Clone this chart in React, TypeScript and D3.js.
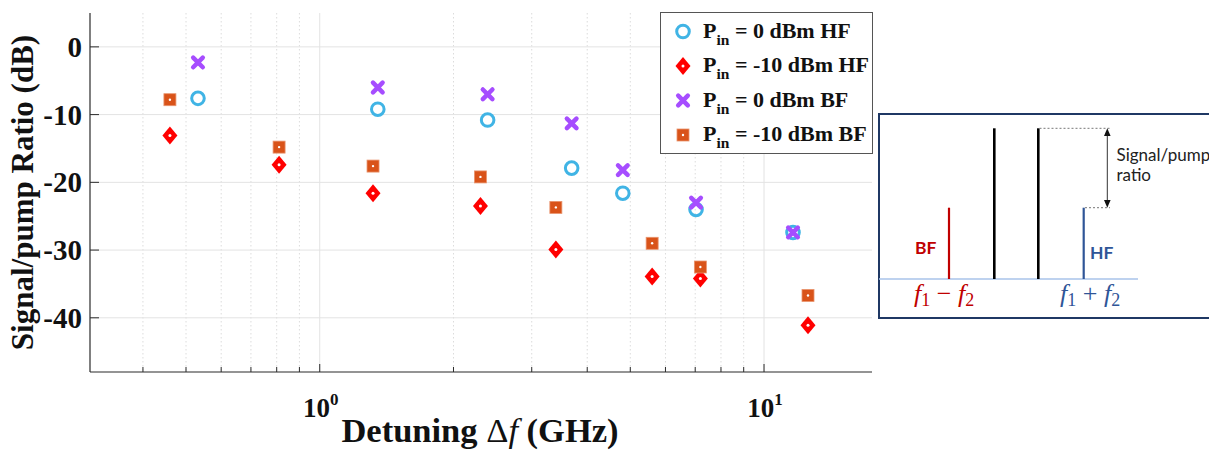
import React from "react";
import * as d3 from "d3";

// ---- Data ----
const detuning0dBm = [0.532, 1.351, 2.387, 3.69, 4.81, 7.03, 11.62];
const hf0dBm = [-7.6, -9.2, -10.8, -17.9, -21.6, -24.0, -27.4];
const bf0dBm = [-2.3, -6.0, -7.0, -11.3, -18.2, -23.0, -27.4];

const detuningM10dBm = [0.46, 0.81, 1.318, 2.3, 3.4, 5.6, 7.19, 12.56];
const hfM10dBm = [-13.1, -17.4, -21.6, -23.5, -29.9, -33.9, -34.2, -41.1];
const bfM10dBm = [-7.8, -14.8, -17.6, -19.2, -23.7, -29.0, -32.5, -36.7];

const yTicks = [0, -10, -20, -30, -40];
const xMajorTicks = [1, 10];
const xMinorTicks = [0.4, 0.5, 0.6, 0.7, 0.8, 0.9, 2, 3, 4, 5, 6, 7, 8, 9];

const legendLabels = [
  { rest: " = 0 dBm HF", kind: "circle" },
  { rest: " = -10 dBm HF", kind: "diamond" },
  { rest: " = 0 dBm BF", kind: "x" },
  { rest: " = -10 dBm BF", kind: "square" },
];

const COLORS = {
  circle: "#40b4e5",
  diamond: "#ff0000",
  x: "#a64dff",
  square: "#d95319",
};

const SERIF = "'Liberation Serif', 'Times New Roman', serif";
const SANS = "Lato, 'Noto Sans', sans-serif";

function Marker({ kind, x, y }: { kind: string; x: number; y: number }) {
  if (kind === "circle") {
    return <circle cx={x} cy={y} r={6.3} fill="none" stroke={COLORS.circle} strokeWidth={3} />;
  }
  if (kind === "diamond") {
    return (
      <g>
        <path d={`M${x},${y - 9} L${x + 7.5},${y} L${x},${y + 9} L${x - 7.5},${y} Z`} fill={COLORS.diamond} />
        <circle cx={x} cy={y} r={1.5} fill="#fff" />
      </g>
    );
  }
  if (kind === "x") {
    const s = 4.8;
    return (
      <g stroke={COLORS.x} strokeWidth={4.5} strokeLinecap="round">
        <line x1={x - s} y1={y - s} x2={x + s} y2={y + s} />
        <line x1={x - s} y1={y + s} x2={x + s} y2={y - s} />
      </g>
    );
  }
  return (
    <g>
      <rect x={x - 6} y={y - 6} width={12} height={12} fill={COLORS.square} stroke="#e9936d" strokeWidth={0.8} />
      <circle cx={x} cy={y} r={1.2} fill="#fff" />
    </g>
  );
}

export default function App() {
  const W = 1209;
  const H = 461;
  const left = 90;
  const right = 872;
  const top = 13;
  const bottom = 372;

  const x = d3.scaleLog().domain([0.304, 17.5]).range([left, right]);
  const y = d3.scaleLinear().domain([-48, 5]).range([bottom, top]);

  // inset geometry
  const ix = 879;
  const iy = 114;
  const base = 279;

  return (
    <svg width={W} height={H} style={{ position: "absolute", left: 0, top: 0 }}>
      <rect width={W} height={H} fill="#fff" />
      {/* grid */}
      {xMinorTicks.map((t) => (
        <line key={"mg" + t} x1={x(t)} x2={x(t)} y1={top} y2={bottom} stroke="#dcdcdc" strokeWidth={1} strokeDasharray="1.5,2.5" />
      ))}
      {xMajorTicks.map((t) => (
        <line key={"Mg" + t} x1={x(t)} x2={x(t)} y1={top} y2={bottom} stroke="#e3e3e3" strokeWidth={1} />
      ))}
      {yTicks.map((t) => (
        <line key={"yg" + t} x1={left} x2={right} y1={y(t)} y2={y(t)} stroke="#e3e3e3" strokeWidth={1} />
      ))}

      {/* axes */}
      <line x1={left} x2={left} y1={top} y2={bottom} stroke="#2b2b2b" strokeWidth={1.2} />
      <line x1={left} x2={right} y1={bottom} y2={bottom} stroke="#2b2b2b" strokeWidth={1.2} />
      {yTicks.map((t) => (
        <line key={"yt" + t} x1={left} x2={left + 9} y1={y(t)} y2={y(t)} stroke="#2b2b2b" strokeWidth={1} />
      ))}
      {xMajorTicks.map((t) => (
        <line key={"xt" + t} x1={x(t)} x2={x(t)} y1={bottom} y2={bottom - 8} stroke="#2b2b2b" strokeWidth={1} />
      ))}
      {xMinorTicks.map((t) => (
        <line key={"xmt" + t} x1={x(t)} x2={x(t)} y1={bottom} y2={bottom - 5} stroke="#2b2b2b" strokeWidth={1} />
      ))}

      {/* tick labels */}
      {yTicks.map((t) => (
        <text key={"yl" + t} x={left - 8} y={y(t) + 10} textAnchor="end" fontFamily={SERIF} fontWeight="bold" fontSize={29} fill="#111">
          {t === 0 ? "0" : "-" + Math.abs(t)}
        </text>
      ))}
      {xMajorTicks.map((t, i) => (
        <text key={"xl" + t} x={x(t) + 1} y={417} textAnchor="middle" fontFamily={SERIF} fontWeight="bold" fontSize={27} fill="#111">
          10<tspan dy={-12} fontSize={17}>{i}</tspan>
        </text>
      ))}

      {/* axis labels */}
      <text x={480} y={442} textAnchor="middle" fontFamily={SERIF} fontWeight="bold" fontSize={34.5} fill="#111">
        Detuning <tspan fontWeight="normal">Δ</tspan><tspan fontStyle="italic" fontWeight="normal">f</tspan> (GHz)
      </text>
      <text transform={`translate(33,${(top + bottom) / 2}) rotate(-90)`} textAnchor="middle" fontFamily={SERIF} fontWeight="bold" fontSize={31} fill="#111">
        Signal/pump Ratio (dB)
      </text>

      {/* data */}
      {detuning0dBm.map((d, i) => (
        <Marker key={"c" + i} kind="circle" x={x(d)} y={y(hf0dBm[i])} />
      ))}
      {detuningM10dBm.map((d, i) => (
        <Marker key={"d" + i} kind="diamond" x={x(d)} y={y(hfM10dBm[i])} />
      ))}
      {detuning0dBm.map((d, i) => (
        <Marker key={"x" + i} kind="x" x={x(d)} y={y(bf0dBm[i])} />
      ))}
      {detuningM10dBm.map((d, i) => (
        <Marker key={"s" + i} kind="square" x={x(d)} y={y(bfM10dBm[i])} />
      ))}

      {/* legend */}
      <rect x={660.5} y={12.5} width={212} height={141} fill="#fff" stroke="#555" strokeWidth={1} />
      {legendLabels.map((l, i) => {
        const cy = 31.5 + i * 34.5;
        return (
          <g key={"lg" + i}>
            <Marker kind={l.kind} x={683} y={cy} />
            <text x={703} y={cy + 6} fontFamily={SERIF} fontWeight="bold" fontSize={22} fill="#111">
              P<tspan dy={7} fontSize={15.5}>in</tspan><tspan dy={-7}>{l.rest}</tspan>
            </text>
          </g>
        );
      })}

      {/* inset */}
      <rect x={ix} y={iy} width={340} height={204} fill="#fff" stroke="#1f3864" strokeWidth={2} />
      <line x1={ix} x2={1138} y1={base} y2={base} stroke="#a9c3ea" strokeWidth={1.6} />
      <line x1={949} x2={949} y1={207.7} y2={base} stroke="#c00000" strokeWidth={2.2} />
      <line x1={994.3} x2={994.3} y1={128.3} y2={base} stroke="#000" strokeWidth={2.6} />
      <line x1={1038.3} x2={1038.3} y1={128.3} y2={base} stroke="#000" strokeWidth={2.6} />
      <line x1={1083.7} x2={1083.7} y1={207.7} y2={base} stroke="#2f5597" strokeWidth={2.2} />
      <line x1={1039.5} x2={1110} y1={128.3} y2={128.3} stroke="#777" strokeWidth={1} strokeDasharray="2,2" />
      <line x1={1085} x2={1110} y1={207.7} y2={207.7} stroke="#777" strokeWidth={1} strokeDasharray="2,2" />
      <line x1={1107.3} x2={1107.3} y1={134} y2={202} stroke="#333" strokeWidth={1} />
      <path d={`M1107.3,128.3 L1104,136 L1110.6,136 Z`} fill="#111" />
      <path d={`M1107.3,207.7 L1104,200 L1110.6,200 Z`} fill="#111" />
      <text x={1116.5} y={161} fontFamily={SANS} fontSize={17} fill="#222">Signal/pump</text>
      <text x={1116.5} y={181} fontFamily={SANS} fontSize={17} fill="#222">ratio</text>
      <text x={915} y={254} fontFamily={SANS} fontWeight="bold" fontSize={17.5} fill="#c00000">BF</text>
      <text x={1090} y={259} fontFamily={SANS} fontWeight="bold" fontSize={17.5} fill="#2f5597">HF</text>
      <text x={914} y={302} fontFamily={SERIF} fontStyle="italic" fontSize={26} fill="#c00000">
        f<tspan dy={4} fontSize={18} fontStyle="normal">1</tspan><tspan dy={-4} fontStyle="normal"> − </tspan>f<tspan dy={4} fontSize={18} fontStyle="normal">2</tspan>
      </text>
      <text x={1060} y={302} fontFamily={SERIF} fontStyle="italic" fontSize={26} fill="#2f5597">
        f<tspan dy={4} fontSize={18} fontStyle="normal">1</tspan><tspan dy={-4} fontStyle="normal"> + </tspan>f<tspan dy={4} fontSize={18} fontStyle="normal">2</tspan>
      </text>
    </svg>
  );
}
